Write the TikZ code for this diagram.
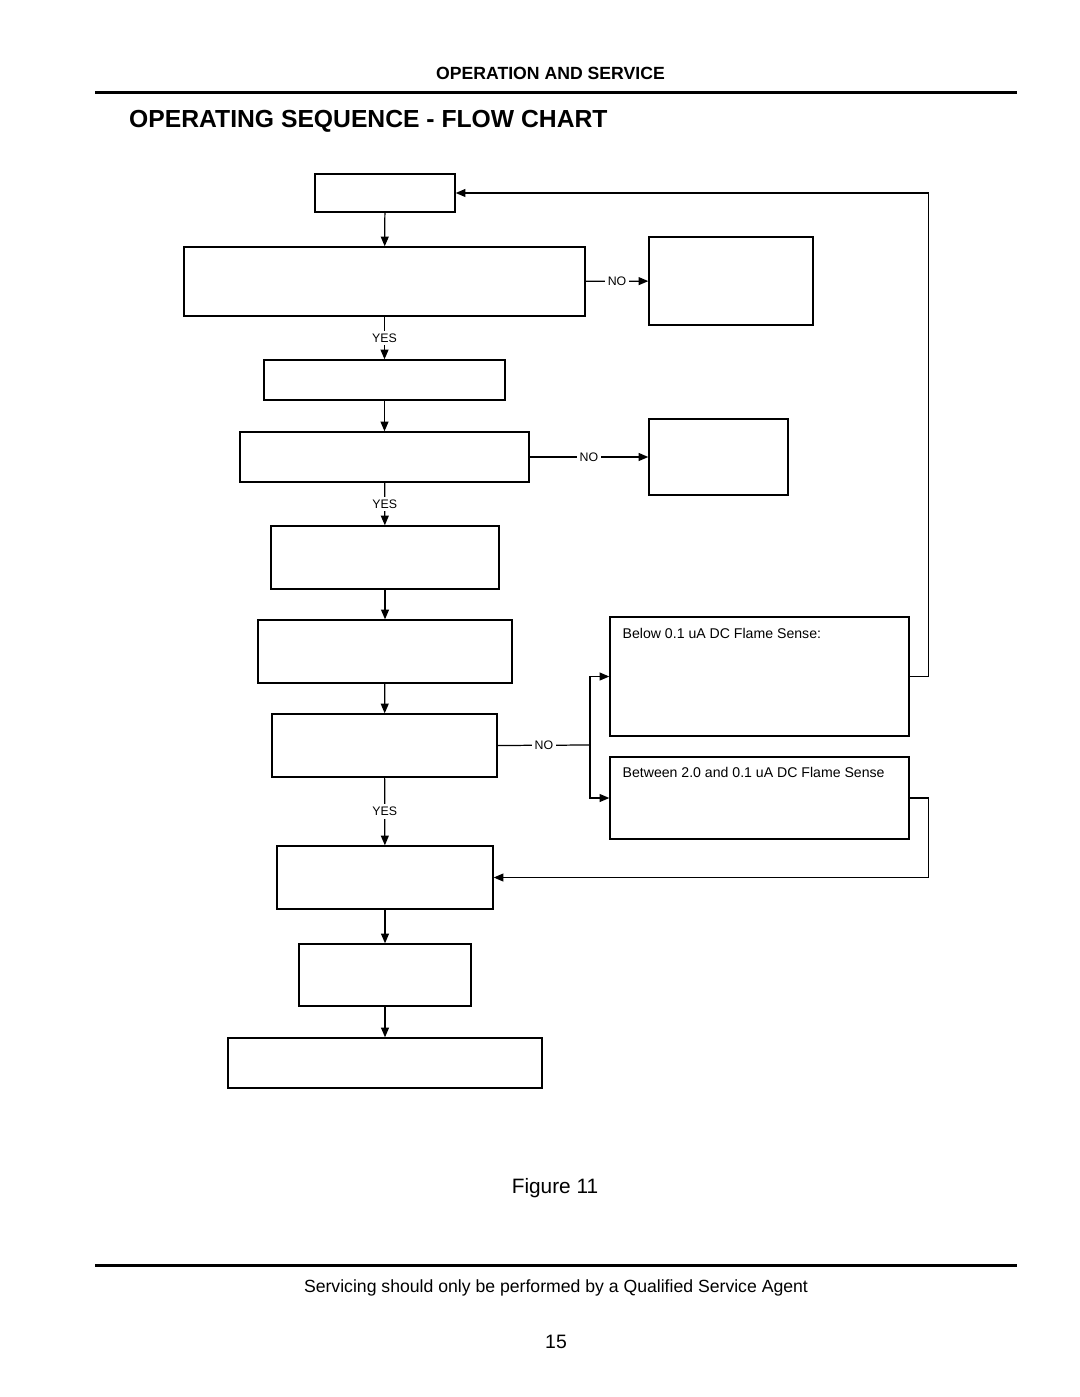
\documentclass[tikz,border=0pt]{standalone}
\usepackage{fontspec}
\setmainfont{Liberation Sans}
\usetikzlibrary{arrows.meta}
\usetikzlibrary{positioning}
\usetikzlibrary{fit}

\tikzset{
  box/.style={draw, line width=0.8pt, inner sep=0pt, fit={#1}},
  arr/.style={line width=0.7pt, -{Triangle[length=5.5pt,width=4.5pt]}},
  link/.style={line width=0.7pt},
  tag/.style={fill=white, inner sep=1.5pt, font=\fontsize{7}{8}\selectfont},
  small/.style={font=\fontsize{8}{9}\selectfont, inner sep=0pt, anchor=west},
}

\begin{document}
\begin{tikzpicture}[x=0.567pt, y=-0.567pt]
\useasboundingbox (0,0) rectangle (1080,1397);

% page head
\node[anchor=east, font=\bfseries\fontsize{10}{12}\selectfont] (head) at (671,73) {OPERATION AND SERVICE};
\draw[line width=1.7pt] (95,93) -- (1017,93);
\node[anchor=west, font=\bfseries\fontsize{14}{17}\selectfont] (title) at (123,121) {OPERATING SEQUENCE - FLOW CHART};

% main column
\node[box={(315,174) (455,212)}] (start) {};
\node[box={(184,247) (585,316)}] (call) {};
\node[box={(264,360) (505,400)}] (blower) {};
\node[box={(240,432) (529,482)}] (prove) {};
\node[box={(271,526) (499,589)}] (ignite) {};
\node[box={(258,620) (512,683)}] (valve) {};
\node[box={(272,714) (497,777)}] (flame) {};
\node[box={(277,846) (493,909)}] (run) {};
\node[box={(299,944) (471,1006)}] (idle) {};
\node[box={(228,1038) (542,1088)}] (off) {};

% side boxes
\node[box={(649,237) (813,325)}] (noCall) {};
\node[box={(649,419) (788,495)}] (noProve) {};
\node[box={(610,617) (909,736)}] (lowSense) {};
\node[box={(610,757) (909,839)}] (midSense) {};
\node[small] (lowText) at ([shift={(13,17)}]lowSense.north west) {Below 0.1 uA DC Flame Sense:};
\node[small] (midText) at ([shift={(13,16)}]midSense.north west) {Between 2.0 and 0.1 uA DC Flame Sense};

% down the column
\draw[arr] (start) -- (call);
\draw[arr] (call) -- node[tag] {YES} (blower);
\draw[arr] (blower) -- (prove);
\draw[arr] (prove) -- node[tag] {YES} (ignite);
\draw[arr] (ignite) -- (valve);
\draw[arr] (valve) -- (flame);
\draw[arr] (flame) -- node[tag] {YES} (run);
\draw[arr] (run) -- (idle);
\draw[arr] (idle) -- (off);

% no branches
\draw[arr] (call) -- node[tag] {NO} (noCall);
\draw[arr] (prove) -- node[tag] {NO} (noProve);
\coordinate (split) at (590,745);
\draw[link] (flame.east) -- node[tag] {NO} (split);
\draw[arr] (split) |- (lowSense.west);
\draw[arr] (split) |- (midSense.west);

% return lines
\draw[arr] (lowSense.east) -- ++(19,0) |- (start.east);
\draw[arr] (midSense.east) -- ++(19,0) |- (run.east);

% foot
\node[font=\fontsize{11.8}{14}\selectfont] (fig) at (555,1188) {Figure 11};
\draw[line width=1.7pt] (95,1265) -- (1017,1265);
\node[font=\fontsize{10}{12}\selectfont] (foot) at (556,1288) {Servicing should only be performed by a Qualified Service Agent};
\node[font=\fontsize{11}{13}\selectfont] (page) at (556,1342) {15};
\end{tikzpicture}
\end{document}
